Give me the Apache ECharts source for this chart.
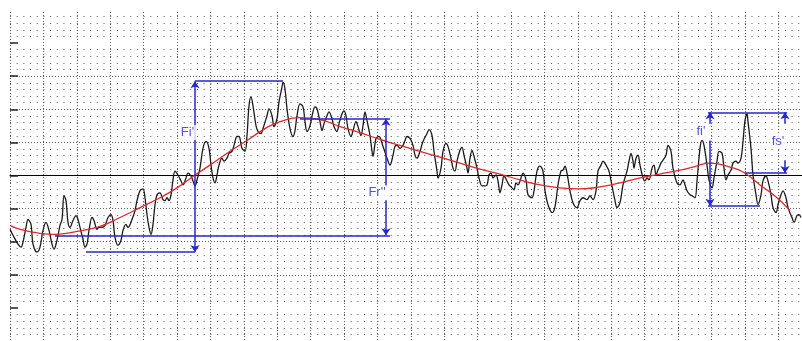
<!DOCTYPE html>
<html>
<head>
<meta charset="utf-8">
<script src="https://cdn.jsdelivr.net/npm/echarts@6/dist/echarts.min.js"></script>
<style>
  html, body { margin: 0; padding: 0; background: #fff; }
  #chart { width: 802px; height: 341px; }
</style>
</head>
<body>
<div id="chart"></div>
<script>
// measured signal (black)
const rawX = [0, 3, 8, 11, 13, 16, 18, 21, 23, 27, 30, 33, 36, 39, 42, 44, 47, 50, 52, 54, 56, 58, 60, 63, 66, 68, 70, 73, 75, 77, 79, 82, 84, 87, 89, 92, 95, 98, 101, 103, 105, 108, 111, 113, 116, 118, 122, 125,
  127, 130, 133, 135, 137, 139, 141, 143, 145, 147, 150, 153, 155, 157, 159, 161, 163, 165, 168, 171, 173, 176, 178, 181, 183, 185, 187, 190, 193, 196, 199, 201, 203, 205, 207, 209, 212, 214, 217, 219, 222, 224, 227, 229, 232, 235, 237, 239, 241, 243, 246, 248, 251,
  253, 257, 259, 262, 264, 267, 269, 272, 273, 275, 277, 280, 283, 285, 287, 290, 293, 295, 297, 300, 303, 305, 307, 310, 312, 314, 317, 319, 322, 324, 327, 329, 332, 334, 336, 338, 341, 343, 346, 348, 351, 353, 355, 357, 360, 362, 363, 366, 369, 373, 377, 380,
  383, 385, 387, 390, 393, 395, 397, 400, 403, 405, 407, 410, 413, 417, 419, 422, 424, 427, 428, 431, 433, 436, 438, 441, 443, 445, 447, 450, 452, 454, 457, 458, 460, 462, 464, 467, 469, 472, 474, 477, 479, 481, 483, 486, 488, 490, 492, 494, 497, 499, 502, 504, 506, 508, 511, 513, 516, 518, 522, 524, 527, 530,
  533, 535, 538, 542, 544, 546, 548, 551, 553, 555, 557, 560, 563, 567, 570, 573, 577, 580, 583, 586, 588, 591, 593, 596, 599, 602, 605, 607, 610, 613, 617, 619, 621, 623, 624, 626, 628, 630, 633, 635, 637, 639, 642, 644, 646, 648, 651, 653, 656, 658, 661, 663, 667, 670, 673, 675, 677, 680,
  682, 685, 687, 690, 692, 694, 697, 699, 702, 704, 707, 709, 712, 714, 716, 718, 721, 723, 726, 728, 731, 733, 735, 737, 738, 741, 743, 746, 748, 751, 753, 756, 758, 761, 763, 766, 768, 771, 773, 776, 778, 782, 784, 787, 789, 791];
const rawY = [-54.5, -60.5, -69.5, -72.5, -67.5, -52.5, -44.5, -49.5, -69.5, -77.5, -72.5, -55.5, -47.5, -55.5, -69.5, -74.5, -65.5, -50.5, -44.5, -20.5, -25.5, -47.5, -52.5, -45.5, -40.5, -44.5, -52.5, -64.5, -72.5, -69.5, -55.5, -42.5, -45.5, -54.5, -52.5, -52.5, -50.5, -42.5, -39.5, -45.5, -62.5, -70.5, -65.5, -55.5, -49.5, -52.5, -44.5, -35.5,
  -25.5, -15.5, -13.5, -22.5, -39.5, -52.5, -59.5, -49.5, -29.5, -19.5, -17.5, -24.5, -25.5, -22.5, -25.5, -19.5, -4.5, 4.5, 0.5, -5.5, -9.5, -2.5, 2.5, -0.5, -5.5, -10.5, -4.5, 7.5, 27.5, 34.5, 27.5, 10.5, -2.5, -7.5, 0.5, 10.5, 17.5, 14.5, 17.5, 22.5, 24.5, 30.5, 39.5, 39.5, 27.5, 24.5, 40.5, 70.5, 79.5, 70.5, 50.5, 44.5, 42.5,
  47.5, 60.5, 67.5, 60.5, 49.5, 57.5, 74.5, 89.5, 94.5, 87.5, 67.5, 47.5, 39.5, 45.5, 60.5, 72.5, 69.5, 54.5, 44.5, 50.5, 64.5, 69.5, 67.5, 54.5, 45.5, 52.5, 60.5, 64.5, 57.5, 49.5, 44.5, 52.5, 62.5, 65.5, 60.5, 47.5, 39.5, 45.5, 54.5, 49.5, 40.5, 50.5, 64.5, 55.5, 40.5, 24.5, 19.5, 37.5, 39.5, 29.5, 17.5, 10.5,
  20.5, 29.5, 30.5, 27.5, 30.5, 35.5, 39.5, 37.5, 30.5, 20.5, 17.5, 24.5, 34.5, 42.5, 46.5, 40.5, 24.5, 4.5, -2.5, 7.5, 24.5, 32.5, 29.5, 17.5, 7.5, 4.5, 14.5, 25.5, 28.5, 20.5, 7.5, 2.5, 17.5, 25.5, 19.5, 7.5, -2.5, -10.5, -10.5, -9.5, 0.5, 2.5, -2.5, 0.5, -5.5, -17.5, -9.5, -0.5, -5.5, -9.5, -12.5, -14.5, -7.5, -9.5, -2.5, 2.5, -4.5, -19.5, -22.5, -15.5, 4.5, 9.5,
  4.5, -15.5, -29.5, -37.5, -35.5, -25.5, -9.5, 4.5, 5.5, 9.5, 2.5, -15.5, -27.5, -32.5, -25.5, -22.5, -24.5, -20.5, -24.5, -15.5, 4.5, 10.5, 14.5, 10.5, 4.5, -10.5, -25.5, -32.5, -27.5, -9.5, 4.5, 14.5, 22.5, 14.5, 7.5, 17.5, 20.5, 10.5, -2.5, -5.5, -2.5, -4.5, 7.5, 10.5, 0.5, 5.5, 12.5, 15.5, 20.5, 30.5, 24.5, 7.5, -7.5, -9.5, -4.5, -9.5, -15.5, -19.5,
  -20.5, -22.5, -5.5, 27.5, 35.5, 30.5, 10.5, -4.5, -12.5, -2.5, 14.5, 24.5, 22.5, 7.5, -4.5, 0.5, 5.5, 12.5, 14.5, 12.5, 17.5, 34.5, 55.5, 62.5, 54.5, 27.5, 0.5, -19.5, -29.5, -19.5, -5.5, -0.5, -5.5, -19.5, -32.5, -37.5, -29.5, -19.5, -15.5, -22.5, -32.5, -42.5, -47.5, -40.5, -39.5, -42.5];

// smoothed trend (red)
const trendX = [0, 10, 30, 45, 67, 90, 110, 130, 150, 167, 185, 200, 220, 240, 255, 270, 290, 310, 330, 350, 370, 390, 410, 430, 450, 470, 490, 510, 530, 550, 570, 590, 610, 630, 650, 670, 683, 700, 720, 733, 750, 767, 780];
const trendY = [-50.5, -54.5, -58.5, -59.5, -56.5, -51.5, -42.5, -32.5, -22.5, -12.5, 0.5, 10.5, 24.5, 37.5, 47.5, 54.5, 58.5, 56.5, 49.5, 43.5, 36.5, 30.5, 24.5, 18.5, 12.5, 6.5, 1.5, -4.5, -9.5, -12.5, -13.5, -11.5, -7.5, -2.5, 1.5, 5.5, 8.5, 12.5, 8.5, 3.5, -9.5, -22.5, -35.5];

// annotation brackets: [x1, y1, x2, y2, startArrow, endArrow]
const brackets = [
  [185, 95.5, 273, 95.5, 0, 0],
  [76, -77.5, 185, -77.5, 0, 0],
  [185, 95.5, 185, -77.5, 1, 1],
  [45, -60.5, 380, -60.5, 0, 0],
  [290, 57.5, 380, 57.5, 0, 0],
  [376, 57.5, 376, -10.5, 1, 0],
  [376, -24.5, 376, -60.5, 0, 1],
  [698, 64, 777, 64, 0, 0],
  [698, -30.5, 750, -30.5, 0, 0],
  [700, 64, 700, 52.5, 1, 0],
  [700, 35.5, 700, -30.5, 0, 1],
  [735, 2.5, 777, 2.5, 0, 0],
  [775, 64, 775, 52.5, 1, 0],
  [775, 15.5, 775, 2.5, 0, 1]
];
const bracketLabels = ["Fi'", "Fr''", "fi'", "fs'"];
const labelX = [177.5, 367, 691, 768];
const labelY = [43.5, -17.5, 44.5, 34.5];

const yTicks = [-134, -100.5, -67, -33.5, 0, 33.5, 67, 100.5, 134];

const blue = '#2626cf';
const chart = echarts.init(document.getElementById('chart'), null, { renderer: 'canvas' });

const markLines = brackets.map(b => [
  { coord: [b[0], b[1]], symbol: b[4] ? 'arrow' : 'none' },
  { coord: [b[2], b[3]], symbol: b[5] ? 'arrow' : 'none' }
]);

chart.setOption({
  animation: false,
  grid: { left: 10, right: 0, top: 12, bottom: -4 },
  xAxis: {
    type: 'value',
    min: 0,
    max: 792,
    interval: 33.4,
    axisLine: { show: true, onZero: true, lineStyle: { color: '#000', width: 1 } },
    axisTick: { show: false },
    axisLabel: { show: false },
    splitLine: { show: true, showMaxLine: false, lineStyle: { color: '#5a5a5a', width: 1, type: [1, 2] } },
    minorTick: { show: false, splitNumber: 5 },
    minorSplitLine: { show: false }
  },
  yAxis: {
    type: 'value',
    min: -167.5,
    max: 165.5,
    interval: 33.5,
    axisLine: { show: false },
    axisTick: { show: true, inside: true, length: 8, customValues: yTicks, lineStyle: { color: '#222', width: 1.5 } },
    axisLabel: { show: false },
    splitLine: { show: true, showMinLine: false, showMaxLine: false, lineStyle: { color: '#5a5a5a', width: 1, type: [1, 2] } },
    minorTick: { show: false, splitNumber: 5 },
    minorSplitLine: { show: true, lineStyle: { color: '#555', width: 1, type: [1, 5.68] } }
  },
  series: [
    {
      name: 'signal',
      type: 'line',
      data: rawX.map((x, i) => [x, rawY[i]]),
      showSymbol: false,
      smooth: 0.35,
      lineStyle: { color: '#1a1a1a', width: 1.3 },
      z: 3
    },
    {
      name: 'trend',
      type: 'line',
      data: trendX.map((x, i) => [x, trendY[i]]),
      showSymbol: false,
      smooth: true,
      lineStyle: { color: '#e3262a', width: 1.3 },
      z: 4
    },
    {
      name: 'brackets',
      type: 'line',
      data: [],
      z: 5,
      markLine: {
        silent: true,
        symbolSize: 7,
        label: { show: false },
        lineStyle: { color: blue, width: 1.5, type: 'solid' },
        emphasis: { disabled: true },
        data: markLines
      }
    },
    {
      name: 'labels',
      type: 'scatter',
      symbolSize: 0,
      z: 6,
      data: bracketLabels.map((t, i) => ({ name: t, value: [labelX[i], labelY[i]] })),
      label: {
        show: true,
        position: 'inside',
        formatter: '{b}',
        color: blue,
        fontSize: 13,
        fontFamily: 'Liberation Sans, Arial, sans-serif',
        backgroundColor: '#fff',
        padding: [1, 2]
      }
    }
  ]
});
</script>
</body>
</html>
